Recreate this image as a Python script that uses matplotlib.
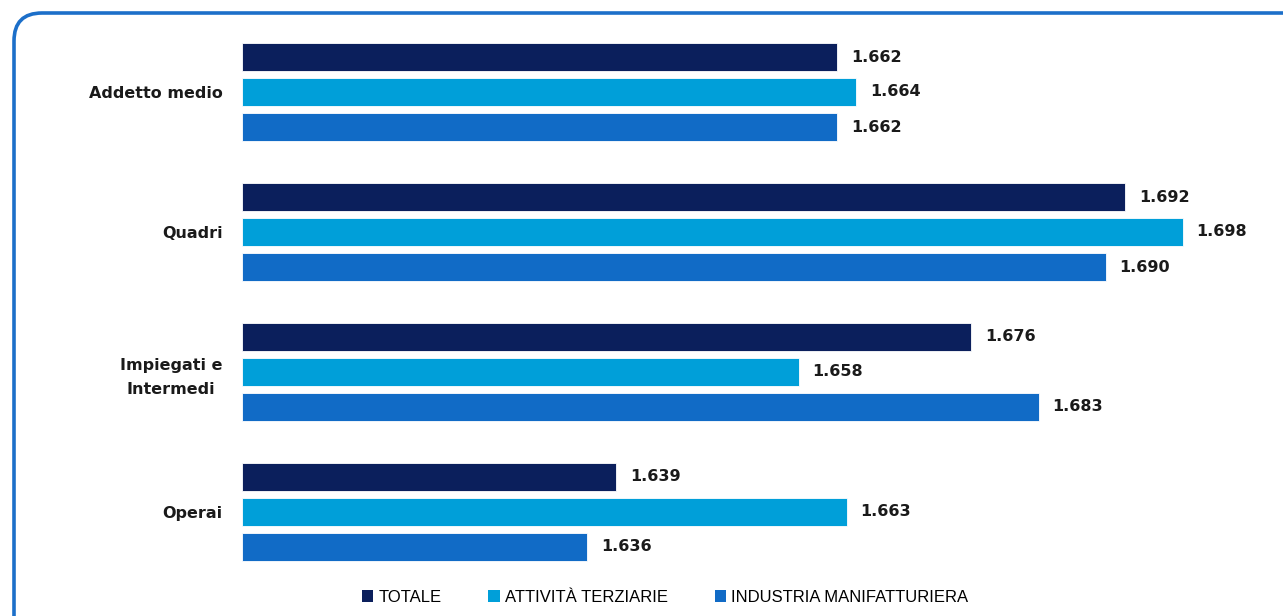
import numpy as np
import matplotlib
matplotlib.use("Agg")
import matplotlib.pyplot as plt
from matplotlib.patches import FancyBboxPatch, Patch
from matplotlib.transforms import IdentityTransform

categories = ["Addetto medio", "Quadri", "Impiegati e\nIntermedi", "Operai"]
series = ["TOTALE", "ATTIVITÀ TERZIARIE", "INDUSTRIA MANIFATTURIERA"]
totale = [1662, 1692, 1676, 1639]
terziarie = [1664, 1698, 1658, 1663]
industria = [1662, 1690, 1683, 1636]
colors = ["#0B1F5C", "#009FD9", "#116BC6"]

W, H = 1283, 616
fig = plt.figure(figsize=(W / 100, H / 100), dpi=100)
fig.patch.set_facecolor("white")

# axes placed in pixel terms: left 242, right 1262, top 30, bottom 575
ax = fig.add_axes([242 / W, 1 - 575 / H, (1262 - 242) / W, (575 - 30) / H])
ax.set_xlim(1600, 1600 + (1262 - 242) / 9.597)
ax.set_ylim((575 - 92) / 140, (30 - 92) / 140)

y = np.arange(len(categories))
offsets = [-0.25, 0, 0.25]
for vals, off, c, name in zip([totale, terziarie, industria], offsets, colors, series):
    bars = ax.barh(y + off, np.array(vals) - 1600, left=1600, height=0.195,
                   color=c, edgecolor="white", linewidth=0.6, label=name)
    for b, v in zip(bars, vals):
        s = f"{v/1000:.3f}"
        ax.annotate(s, (b.get_x() + b.get_width(), b.get_y() + b.get_height() / 2),
                    xytext=(10, 0), textcoords="offset points", va="center", ha="left",
                    fontsize=11.5, fontweight="bold", color="#1a1a1a",
                    annotation_clip=False)

ax.set_yticks(y)
ax.set_yticklabels(categories, fontsize=11.5, fontweight="bold", color="#1a1a1a",
                   ha="right", multialignment="center", linespacing=1.75)
ax.tick_params(axis="y", length=0, pad=14)
ax.set_xticks([])
for sp in ax.spines.values():
    sp.set_visible(False)
ax.patch.set_alpha(0)

handles = [Patch(facecolor=c, edgecolor="none") for c in colors]
fig.legend(handles, series, loc="center", bbox_to_anchor=(665 / W, 1 - 597 / H),
           ncol=3, frameon=False, handlelength=0.7, handleheight=0.7,
           handletextpad=0.3, columnspacing=2.8, prop={"family": "Liberation Sans", "size": 12})

# rounded blue frame, partly cut by the image edge
frame = FancyBboxPatch((14, -30), 1320, H - 13 + 30,
                       boxstyle="round,pad=0,rounding_size=28",
                       transform=IdentityTransform(), facecolor="none",
                       edgecolor="#1C6FC9", linewidth=2.6, clip_on=False)
fig.patches.append(frame)

fig.savefig("out.png", dpi=100)
